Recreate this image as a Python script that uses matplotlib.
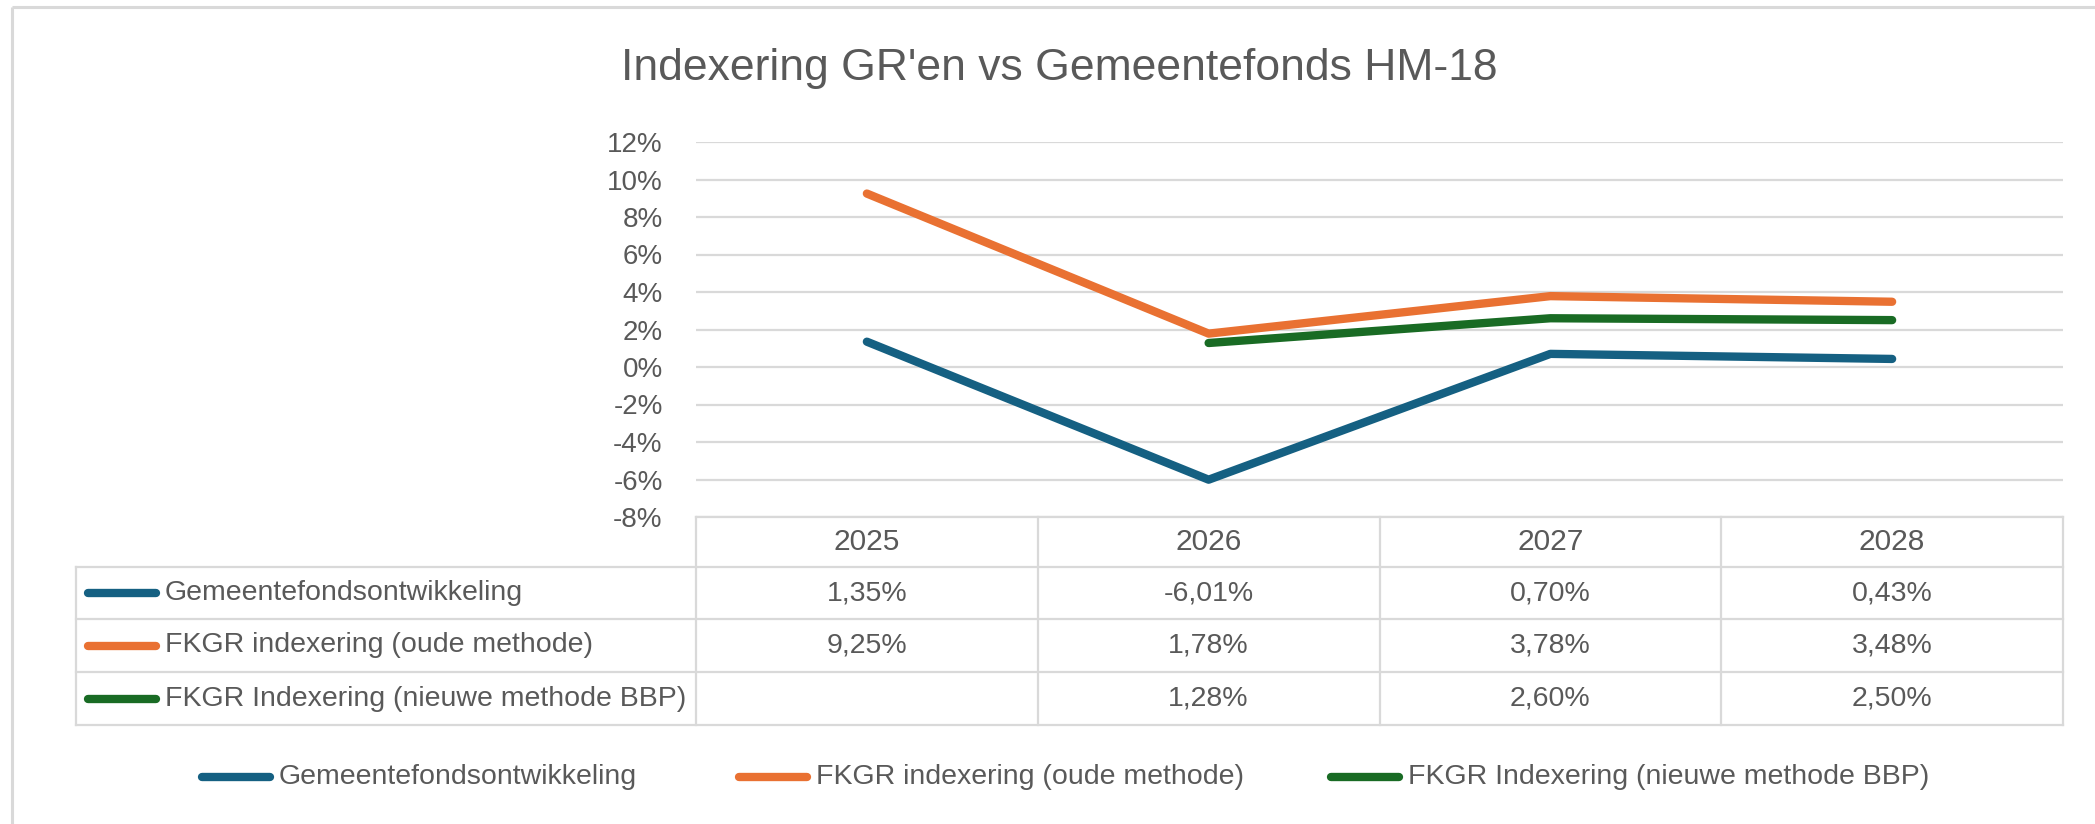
import numpy as np
import matplotlib
matplotlib.use("Agg")
import matplotlib.pyplot as plt

plt.rcParams['font.family'] = ['Liberation Sans', 'DejaVu Sans']

# ---- data ----
title = "Indexering GR'en vs Gemeentefonds HM-18"
years = ["2025", "2026", "2027", "2028"]
series_names = ["Gemeentefondsontwikkeling",
                "FKGR indexering (oude methode)",
                "FKGR Indexering (nieuwe methode BBP)"]
gemeentefonds = [1.35, -6.01, 0.70, 0.43]
fkgr_oud = [9.25, 1.78, 3.78, 3.48]
fkgr_nieuw = [None, 1.28, 2.60, 2.50]
y_ticks = [-8, -6, -4, -2, 0, 2, 4, 6, 8, 10, 12]

colors = ["#156082", "#E97132", "#196B24"]
series = [gemeentefonds, fkgr_oud, fkgr_nieuw]

W, H = 2095, 824
TXT = "#595959"
GRID = "#d9d9d9"
fig = plt.figure(figsize=(W / 100, H / 100), dpi=100)

# plot area geometry (pixels)
L, R, T, B = 696, 2063, 142, 517
ax = fig.add_axes([L / W, 1 - B / H, (R - L) / W, (B - T) / H])
x = np.arange(len(years))
for vals, c in zip(series, colors):
    v = np.array([np.nan if a is None else a for a in vals], dtype=float)
    ax.plot(x, v, color=c, lw=6, solid_capstyle='round', solid_joinstyle='round', zorder=3)
ax.set_xlim(-0.5, len(years) - 0.5)
ax.set_ylim(y_ticks[0], y_ticks[-1])
ax.set_yticks(y_ticks)
ax.set_yticklabels([f"{t}%" for t in y_ticks], fontsize=20, color=TXT)
ax.set_xticks([])
ax.tick_params(axis='y', length=0, pad=24)
ax.yaxis.grid(True, color=GRID, lw=1.6)
ax.set_axisbelow(True)
for s in ax.spines.values():
    s.set_visible(False)

# overlay in pixel coordinates
ov = fig.add_axes([0, 0, 1, 1], zorder=5)
ov.set_xlim(0, W)
ov.set_ylim(H, 0)
ov.axis('off')
ov.patch.set_visible(False)

# outer chart border (top + left visible)
ov.plot([12, W], [7, 7], color=GRID, lw=2.2, solid_capstyle='butt')
ov.plot([12, 12], [7, H], color=GRID, lw=2.2, solid_capstyle='butt')

# title
ov.text(1059, 80, title, fontsize=32, color=TXT, ha='center', va='baseline')

# data table
colw = (R - L) / len(years)
col_edges = [L + i * colw for i in range(len(years) + 1)]
col_centers = [L + (i + 0.5) * colw for i in range(len(years))]
row_edges = [B, 567, 619, 672, 725]
TL = 76
lw_t = 1.6
ov.plot([L, R], [row_edges[0]] * 2, color=GRID, lw=lw_t)
for yy in row_edges[1:]:
    ov.plot([TL, R], [yy, yy], color=GRID, lw=lw_t)
for xx in col_edges:
    ov.plot([xx, xx], [row_edges[0], row_edges[-1]], color=GRID, lw=lw_t)
ov.plot([TL, TL], [row_edges[1], row_edges[-1]], color=GRID, lw=lw_t)

fs = 20.5
hy = (row_edges[0] + row_edges[1]) / 2
for cx, yr in zip(col_centers, years):
    ov.text(cx, hy, yr, fontsize=21.5, color=TXT, ha='center', va='center')


def fmt(v):
    return "" if v is None else f"{v:.2f}".replace('.', ',') + "%"


for r, (name, vals, c) in enumerate(zip(series_names, series, colors)):
    cy = (row_edges[r + 1] + row_edges[r + 2]) / 2
    ov.plot([88, 156], [cy, cy], color=c, lw=6, solid_capstyle='round')
    ov.text(165, cy, name, fontsize=fs, color=TXT, ha='left', va='center')
    for cx, v in zip(col_centers, vals):
        ov.text(cx, cy, fmt(v), fontsize=fs, color=TXT, ha='center', va='center')

# bottom legend
ly = 777
key_x = [198, 735, 1327]
txt_x = [279, 816, 1408]
for kx, tx, name, c in zip(key_x, txt_x, series_names, colors):
    ov.plot([kx + 4, kx + 76 - 4], [ly, ly], color=c, lw=6, solid_capstyle='round')
    ov.text(tx, ly, name, fontsize=fs, color=TXT, ha='left', va='center')

fig.savefig("out.png", dpi=100, facecolor='white')
